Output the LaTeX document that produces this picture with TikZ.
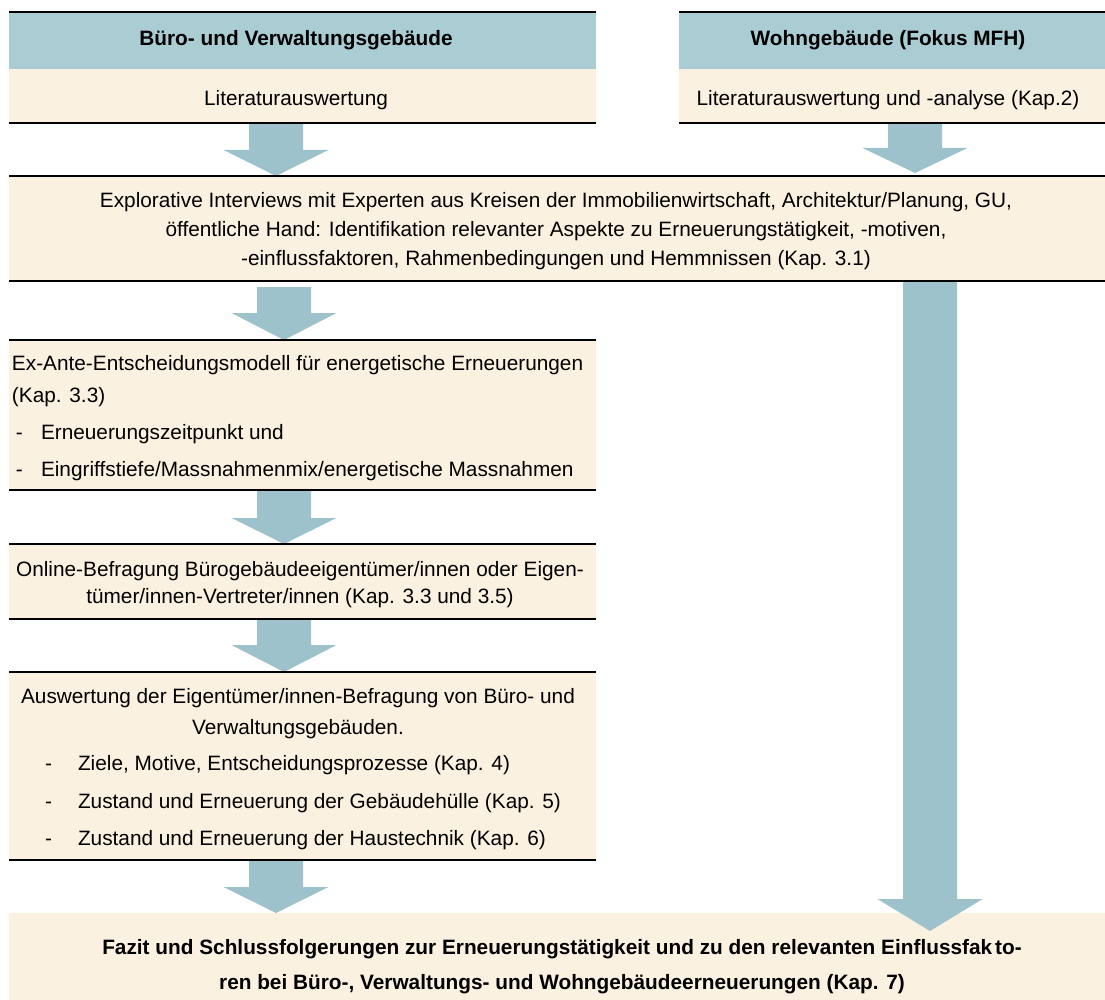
\documentclass[tikz,border=0pt]{standalone}
\usepackage{fontspec}
\setmainfont{Liberation Sans}
\usetikzlibrary{calc}
\definecolor{hdrblue}{HTML}{AACDD4}
\definecolor{arrblue}{HTML}{9DC2CC}
\definecolor{creamc}{HTML}{FBF1E1}
\tikzset{
  boxfill/.style={fill=creamc, draw=none, inner sep=0pt, outer sep=0pt, anchor=north west},
  hdrfill/.style={fill=hdrblue, draw=none, inner sep=0pt, outer sep=0pt, anchor=north west},
  rule/.style={draw=black, line width=1.4pt},
  txt/.style={inner sep=0pt, outer sep=0pt, font=\fontsize{20.8}{24}\selectfont},
  btxt/.style={inner sep=0pt, outer sep=0pt, font=\fontsize{20.8}{24}\selectfont\bfseries},
  arrowfill/.style={fill=arrblue, draw=none},
}
% block arrow from coordinate #1 (shaft top) to coordinate #2 (tip), head length #3
\newcommand\blockarrow[3]{%
  \fill[arrowfill] let \p1=(#1), \p2=(#2) in
    (\x1-27pt,\y1) -- (\x1+27pt,\y1) -- (\x1+27pt,\y2+#3) -- (\x1+52.5pt,\y2+#3)
    -- (\x1,\y2) -- (\x1-52.5pt,\y2+#3) -- (\x1-27pt,\y2+#3) -- cycle;}
\begin{document}
\begin{tikzpicture}[x=1pt,y=-1pt]
\useasboundingbox (0,0) rectangle (1105,1000);

% ---------- boxes ----------
\node[hdrfill, minimum width=587pt, minimum height=57pt] (hdrL) at (9,12) {};
\node[boxfill, minimum width=587pt, minimum height=54pt] (creamL) at (9,69) {};
\node[hdrfill, minimum width=426pt, minimum height=57pt] (hdrR) at (679,12) {};
\node[boxfill, minimum width=426pt, minimum height=54pt] (creamR) at (679,69) {};
\node[boxfill, minimum width=1096pt, minimum height=105pt] (expl) at (9,176) {};
\node[boxfill, minimum width=587pt, minimum height=150pt] (exante) at (9,340) {};
\node[boxfill, minimum width=587pt, minimum height=75pt] (online) at (9,544) {};
\node[boxfill, minimum width=587pt, minimum height=188pt] (ausw) at (9,672) {};
\node[boxfill, minimum width=1096pt, minimum height=87pt] (fazit) at (9,913) {};

% ---------- arrow end points ----------
\coordinate (a1s) at (276,0 |- creamL.south);
\coordinate (a1e) at (276,0 |- expl.north);
\coordinate (a2s) at (915,0 |- creamR.south);
\coordinate (a2e) at (915,173);
\coordinate (a3s) at (284,287);
\coordinate (a3e) at (284,0 |- exante.north);
\coordinate (a4s) at (284,0 |- exante.south);
\coordinate (a4e) at (284,0 |- online.north);
\coordinate (a5s) at (284,0 |- online.south);
\coordinate (a5e) at (284,0 |- ausw.north);
\coordinate (a6s) at (276,0 |- ausw.south);
\coordinate (a6e) at (276,0 |- fazit.north);
\coordinate (a7s) at (930,0 |- expl.south);
\coordinate (a7e) at (930,931);

\blockarrow{a1s}{a1e}{26pt}
\blockarrow{a2s}{a2e}{25pt}
\blockarrow{a3s}{a3e}{27pt}
\blockarrow{a4s}{a4e}{26pt}
\blockarrow{a5s}{a5e}{27pt}
\blockarrow{a6s}{a6e}{26pt}
\blockarrow{a7s}{a7e}{32pt}

% ---------- rules ----------
\draw[rule] (hdrL.north west) -- (hdrL.north east);
\draw[rule] (creamL.south west) -- (creamL.south east);
\draw[rule] (hdrR.north west) -- (hdrR.north east);
\draw[rule] (creamR.south west) -- (creamR.south east);
\draw[rule] (expl.north west) -- (expl.north east);
\draw[rule] (expl.south west) -- (expl.south east);
\draw[rule, line width=2pt] (exante.north west) -- (exante.north east);
\draw[rule] (exante.south west) -- (exante.south east);
\draw[rule] (online.north west) -- (online.north east);
\draw[rule] (online.south west) -- (online.south east);
\draw[rule] (ausw.north west) -- (ausw.north east);
\draw[rule] (ausw.south west) -- (ausw.south east);

% ---------- texts ----------
\node[btxt, anchor=base] (tHL) at (296,46) {Büro- und Verwaltungsgebäude};
\node[txt, anchor=base] (tCL) at (296,106) {Literaturauswertung};
\node[btxt, anchor=base] (tHR) at (888,46) {Wohngebäude (Fokus MFH)};
\node[txt, anchor=base] (tCR) at (888,106) {Literaturauswertung und -analyse (Kap.2)};

\node[txt, anchor=base] (tE1) at (556,207.5) {Explorative Interviews mit Experten aus Kreisen der Immobilienwirtschaft, Architektur/Planung, GU,};
\node[txt, anchor=base] (tE2) at (556,236.5) {öffentliche Hand: Identifikation relevanter Aspekte zu Erneuerungstätigkeit, -motiven,};
\node[txt, anchor=base] (tE3) at (556,265.5) {-einflussfaktoren, Rahmenbedingungen und Hemmnissen (Kap. 3.1)};

\node[txt, anchor=base west] (tX1) at (12,370) {Ex-Ante-Entscheidungsmodell für energetische Erneuerungen};
\node[txt, anchor=base west] (tX2) at (12,402) {(Kap. 3.3)};
\node[txt, anchor=base west] (tXd1) at (16,439) {-};
\node[txt, anchor=base west] (tX3) at (41,439) {Erneuerungszeitpunkt und};
\node[txt, anchor=base west] (tXd2) at (16,476) {-};
\node[txt, anchor=base west] (tX4) at (41,476) {Eingriffstiefe/Massnahmenmix/energetische Massnahmen};

\node[txt, anchor=base] (tO1) at (300,576.5) {Online-Befragung Bürogebäudeeigentümer/innen oder Eigen-};
\node[txt, anchor=base] (tO2) at (300,603.5) {tümer/innen-Vertreter/innen (Kap. 3.3 und 3.5)};

\node[txt, anchor=base] (tA1) at (298,703.5) {Auswertung der Eigentümer/innen-Befragung von Büro- und};
\node[txt, anchor=base] (tA2) at (298,734.5) {Verwaltungsgebäuden.};
\node[txt, anchor=base west] (tAd1) at (45,770.5) {-};
\node[txt, anchor=base west] (tA3) at (78,770.5) {Ziele, Motive, Entscheidungsprozesse (Kap. 4)};
\node[txt, anchor=base west] (tAd2) at (45,808.5) {-};
\node[txt, anchor=base west] (tA4) at (78,808.5) {Zustand und Erneuerung der Gebäudehülle (Kap. 5)};
\node[txt, anchor=base west] (tAd3) at (45,845.5) {-};
\node[txt, anchor=base west] (tA5) at (78,845.5) {Zustand und Erneuerung der Haustechnik (Kap. 6)};

\node[btxt, anchor=base] (tF1) at (562,954.5) {Fazit und Schlussfolgerungen zur Erneuerungstätigkeit und zu den relevanten Einflussfak\hspace{3pt}to-};
\node[btxt, anchor=base] (tF2) at (562,989.5) {ren bei Büro-, Verwaltungs- und Wohngebäudeerneuerungen (Kap. 7)};
\end{tikzpicture}
\end{document}
